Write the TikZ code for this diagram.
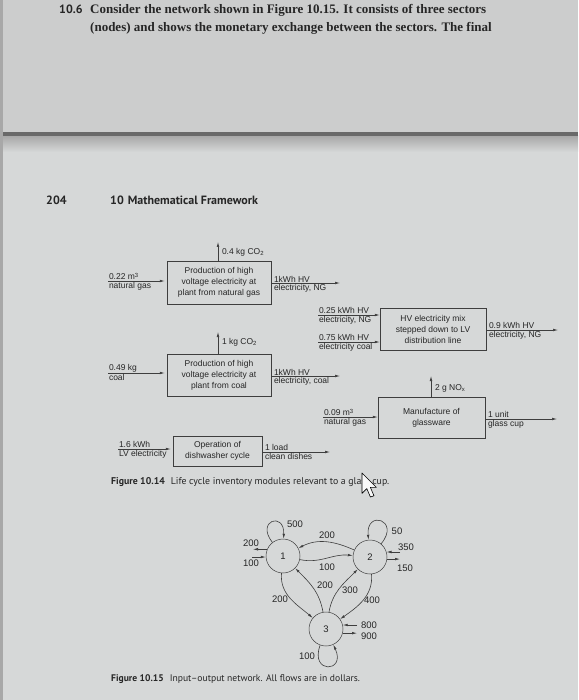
\documentclass[tikz,border=0pt]{standalone}
\usepackage{fontspec}
\usepackage{xcolor}
\usepackage{tikz}
\usetikzlibrary{arrows.meta}

\newfontfamily\bookfont{Liberation Serif}
\newfontfamily\capfont{PT Sans}
\newfontfamily\figfont{Liberation Sans}

\definecolor{paper}{RGB}{214,216,216}
\definecolor{papertop}{RGB}{204,205,205}
\definecolor{fold}{RGB}{105,105,105}
\definecolor{foldband}{RGB}{168,168,168}
\definecolor{ink}{RGB}{38,38,38}
\definecolor{lineink}{RGB}{62,62,62}

\newcommand{\lbl}{\figfont\fontsize{8.5}{11}\selectfont}
\newcommand{\netlbl}{\figfont\fontsize{9.5}{11}\selectfont}

\begin{document}
\begin{tikzpicture}[x=1pt,y=1pt,
  box/.style={draw=lineink, line width=0.5pt, align=center, font=\lbl, text=ink, inner sep=1pt},
  flow/.style={draw=lineink, line width=0.6pt, -{Latex[length=5pt,width=2.6pt]}},
  lab/.style={font=\lbl, text=ink, inner sep=0.8pt},
  sector/.style={circle, draw=lineink, line width=0.5pt, minimum size=34pt, inner sep=0pt, font=\netlbl, text=ink},
  num/.style={font=\netlbl, text=ink, inner sep=0.5pt}]

  % photographed page
  \fill[papertop] (0,0) rectangle (578,-133);
  \fill[paper] (0,-133) rectangle (578,-700);
  \shade[top color=foldband, bottom color=paper] (0,-136) rectangle (578,-152);
  \fill[fold] (0,-132) rectangle (578,-136);
  \fill[foldband] (0,0) rectangle (3,-700);
  \useasboundingbox (0,0) rectangle (578,-700);

  \node[anchor=base west, inner sep=0pt, text=ink, font=\capfont\bfseries\fontsize{12}{14}\selectfont] (exno) at (59,-14) {10.6};
  \node[anchor=base west, inner sep=0pt, text=ink, font=\bookfont\bfseries\fontsize{13}{15}\selectfont] (exone) at (90,-14)
    {Consider the network shown in Figure 10.15. It consists of three sectors};
  \node[anchor=base west, inner sep=0pt, text=ink, font=\bookfont\bfseries\fontsize{13}{15}\selectfont] (extwo) at (90,-32)
    {(nodes) and shows the monetary exchange between the sectors. The final};

  \node[anchor=base west, inner sep=0pt, text=ink, font=\capfont\bfseries\fontsize{12}{14}\selectfont] (pageno) at (46,-205) {204};
  \node[anchor=base west, inner sep=0pt, text=ink, font=\capfont\bfseries\fontsize{12}{14}\selectfont] (chap) at (110,-205) {10\hspace{4pt}Mathematical Framework};

  % Figure 10.14
  \node[box, minimum width=104pt, minimum height=43pt] (ngplant) at (219,-282.5) {Production of high\\voltage electricity at\\plant from natural gas};
  \node[box, minimum width=104pt, minimum height=42pt] (coalplant) at (219,-375) {Production of high\\voltage electricity at\\plant from coal};
  \node[box, minimum width=106pt, minimum height=42pt] (mix) at (433,-329) {HV electricity mix\\stepped down to LV\\distribution line};
  \node[box, minimum width=107pt, minimum height=41pt] (glass) at (431.5,-417.5) {Manufacture of\\glassware};
  \node[box, minimum width=89pt, minimum height=30pt] (dish) at (217.5,-451) {Operation of\\dishwasher cycle};

  \coordinate (ngin) at (108,-281);
  \coordinate (ngout) at (340,-283);
  \coordinate (ngco) at (218,-242);
  \draw[flow, shorten >=2pt] (ngin) -- (ngin -| ngplant.west);
  \draw[flow] (ngout -| ngplant.east) -- (ngout);
  \draw[flow] (ngco |- ngplant.north) -- (ngco);
  \node[lab, anchor=south west] (ngina) at (ngin) {0.22 m\textsuperscript{3}};
  \node[lab, anchor=north west] (nginb) at (ngin) {natural gas};
  \node[lab, anchor=south west] (ngouta) at (273,-283) {1kWh HV};
  \node[lab, anchor=north west] (ngoutb) at (273,-283) {electricity, NG};
  \node[lab, anchor=west] (ngcol) at (221,-252) {0.4 kg CO\textsubscript{2}};

  \coordinate (coalin) at (108,-373);
  \coordinate (coalout) at (340,-376);
  \coordinate (coalco) at (218,-332);
  \draw[flow, shorten >=2pt] (coalin) -- (coalin -| coalplant.west);
  \draw[flow] (coalout -| coalplant.east) -- (coalout);
  \draw[flow] (coalco |- coalplant.north) -- (coalco);
  \node[lab, anchor=south west] (coalina) at (coalin) {0.49 kg};
  \node[lab, anchor=north west] (coalinb) at (coalin) {coal};
  \node[lab, anchor=south west] (coalouta) at (273,-376) {1kWh HV};
  \node[lab, anchor=north west] (coaloutb) at (273,-376) {electricity, coal};
  \node[lab, anchor=west] (coalcol) at (221,-342) {1 kg CO\textsubscript{2}};

  \coordinate (mixinng) at (318,-315);
  \coordinate (mixincoal) at (318,-342);
  \coordinate (mixout) at (558,-330);
  \draw[flow] (mixinng) -- (mixinng -| mix.west);
  \draw[flow] (mixincoal) -- (mixincoal -| mix.west);
  \draw[flow] (mixout -| mix.east) -- (mixout);
  \node[lab, anchor=south west] (mixinnga) at (mixinng) {0.25 kWh HV};
  \node[lab, anchor=north west] (mixinngb) at (mixinng) {electricity, NG};
  \node[lab, anchor=south west] (mixincoala) at (mixincoal) {0.75 kWh HV};
  \node[lab, anchor=north west] (mixincoalb) at (mixincoal) {electricity coal};
  \node[lab, anchor=south west] (mixouta) at (488,-330) {0.9 kWh HV};
  \node[lab, anchor=north west] (mixoutb) at (488,-330) {electricity, NG};

  \coordinate (glassin) at (323,-417);
  \coordinate (glassout) at (557,-419);
  \coordinate (glassno) at (431,-376);
  \draw[flow] (glassin) -- (glassin -| glass.west);
  \draw[flow] (glassout -| glass.east) -- (glassout);
  \draw[flow] (glassno |- glass.north) -- (glassno);
  \node[lab, anchor=south west] (glassina) at (glassin) {0.09 m\textsuperscript{3}};
  \node[lab, anchor=north west] (glassinb) at (glassin) {natural gas};
  \node[lab, anchor=south west] (glassouta) at (487,-419) {1 unit};
  \node[lab, anchor=north west] (glassoutb) at (487,-419) {glass cup};
  \node[lab, anchor=west] (glassnol) at (434,-388) {2 g NO\textsubscript{x}};

  \coordinate (dishin) at (118,-449);
  \coordinate (dishout) at (330,-452);
  \draw[flow, shorten >=2pt] (dishin) -- (dishin -| dish.west);
  \draw[flow] (dishout -| dish.east) -- (dishout);
  \node[lab, anchor=south west] (dishina) at (dishin) {1.6 kWh};
  \node[lab, anchor=north west] (dishinb) at (dishin) {LV electricity};
  \node[lab, anchor=south west] (dishouta) at (264,-452) {1 load};
  \node[lab, anchor=north west] (dishoutb) at (264,-452) {clean dishes};

  \node[anchor=base west, inner sep=0pt, text=ink, font=\capfont\fontsize{9.8}{12}\selectfont] (capone) at (111,-484)
    {\textbf{Figure 10.14}\hspace{6pt}Life cycle inventory modules relevant to a glass cup.};
  \draw[fill=white!85!paper, draw=black, line width=0.6pt, line join=round, shift={(362,-473)}, scale=1.2]
    (0,0) -- (0,-17) -- (4,-13) -- (7,-20) -- (10,-19) -- (7,-12) -- (12,-12) -- cycle;

  % Figure 10.15
  \node[sector] (s1) at (283,-556) {1};
  \node[sector] (s2) at (370,-557) {2};
  \node[sector] (s3) at (326,-629) {3};

  \draw[flow] (s2) to[out=156, in=27] (s1);
  \draw[flow] (s1) to[out=-12, in=175] (s2);
  \draw[flow] (s1) to[out=-95, in=140] (s3);
  \draw[flow] (s3) to[out=100, in=-45] (s1);
  \draw[flow] (s3) to[out=80, in=-135] (s2);
  \draw[flow] (s2) to[out=-85, in=35] (s3);
  \draw[flow] (s1) to[out=128, in=88, looseness=6] (s1);
  \draw[flow] (s2) to[out=50, in=95, looseness=6] (s2);
  \draw[flow] (s3) to[out=-110, in=-65, looseness=6] (s3);

  \coordinate (sone) at (253,-549);
  \coordinate (soneb) at (252,-557);
  \coordinate (stwo) at (400,-552);
  \coordinate (stwob) at (400,-559);
  \coordinate (sthree) at (357,-625);
  \coordinate (sthreeb) at (357,-633);
  \draw[flow] (s1.157) -- (s1.157 -| sone);
  \draw[flow] (soneb) -- (soneb -| s1.183);
  \draw[flow] (stwo) -- (stwo -| s2.17);
  \draw[flow] (s2.-7) -- (s2.-7 -| stwob);
  \draw[flow] (sthree) -- (sthree -| s3.14);
  \draw[flow] (s3.-14) -- (s3.-14 -| sthreeb);

  \node[num] (fa) at (327,-535) {200};
  \node[num] (fb) at (327,-567) {100};
  \node[num] (fc) at (280,-599) {200};
  \node[num] (fd) at (325,-585) {200};
  \node[num] (fe) at (350,-590) {300};
  \node[num] (ff) at (372,-600) {400};
  \node[num] (fg) at (295,-524) {500};
  \node[num] (fh) at (397,-531) {50};
  \node[num] (fi) at (307,-656) {100};
  \node[num] (ya) at (251,-543) {200};
  \node[num] (yb) at (251,-563) {100};
  \node[num] (yc) at (406,-547) {350};
  \node[num] (yd) at (405,-568) {150};
  \node[num] (ye) at (369,-625) {800};
  \node[num] (yf) at (369,-636) {900};

  \node[anchor=base west, inner sep=0pt, text=ink, font=\capfont\fontsize{9.6}{12}\selectfont] (captwo) at (111,-681)
    {\textbf{Figure 10.15}\hspace{6pt}Input–output network. All flows are in dollars.};
\end{tikzpicture}
\end{document}
